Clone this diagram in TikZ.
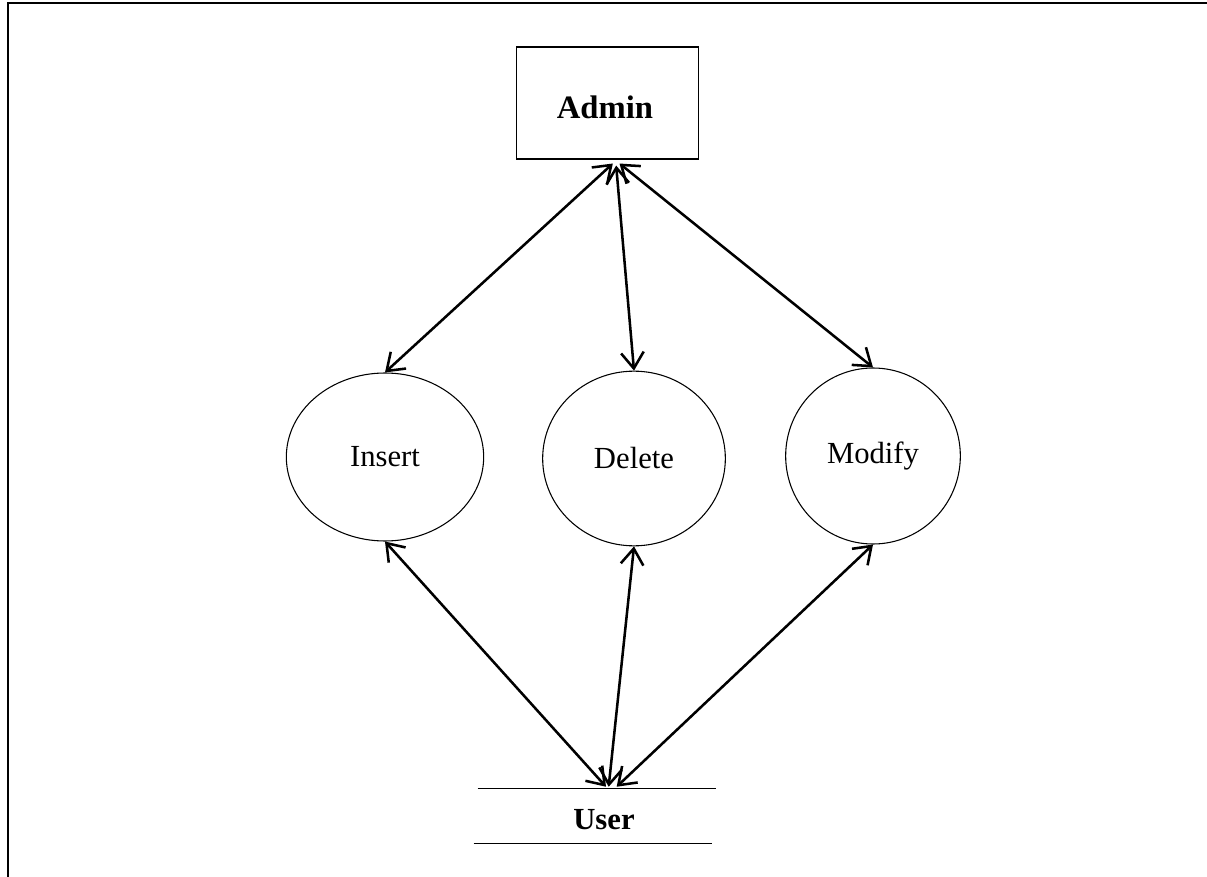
\documentclass[tikz,border=0pt]{standalone}
\usepackage{fontspec}
\setmainfont{Liberation Serif}
\usetikzlibrary{arrows.meta,shapes.geometric}
\begin{document}
\begin{tikzpicture}[x=0.75pt,y=-0.75pt,
  proc/.style={draw,line width=0.8pt,ellipse,inner sep=0pt,font=\fontsize{23}{27}\selectfont},
  flow/.style={line width=1.9pt,{Straight Barb[length=12pt,width=17pt]}-{Straight Barb[length=12pt,width=17pt]}},
  lbl/.style={inner sep=0pt,font=\bfseries\fontsize{23}{27}\selectfont}]
\useasboundingbox (0,0) rectangle (1207,877);
\clip (0,0) rectangle (1207,877);
\draw[line width=1.6pt] (8,3) rectangle (1230,900);
\node[draw,line width=0.8pt,minimum width=137pt,minimum height=84pt,inner sep=0pt] (admin) at (607.5,103) {};
\node[lbl,font=\bfseries\fontsize{24.5}{29}\selectfont] (alabel) at (605,107) {Admin};
\node[proc,minimum width=148pt,minimum height=126pt] (ins) at (385,457) {Insert};
\node[proc,minimum width=137pt,minimum height=131pt] (del) at (634,458.5) {Delete};
\node[proc,minimum width=131pt,minimum height=132pt] (mod) at (873,456) {Modify};
\node[minimum width=178pt,minimum height=40.5pt,inner sep=0pt] (user) at (594,816) {};
\draw[line width=0.8pt] ([xshift=2pt]user.north west) -- ([xshift=2pt]user.north east);
\draw[line width=0.8pt] ([xshift=-1pt]user.south west) -- ([xshift=-1pt]user.south east);
\node[lbl] (ulabel) at (604,820) {User};
\draw[flow] ([xshift=4pt,yshift=-3pt]admin.south) -- (ins.north);
\draw[flow] ([xshift=6.5pt,yshift=-4.5pt]admin.south) -- (del.north);
\draw[flow] ([xshift=9pt,yshift=-3pt]admin.south) -- (mod.north);
\draw[flow] (ins.south) -- ([xshift=9pt,yshift=1.5pt]user.north);
\draw[flow] (del.south) -- ([xshift=11pt,yshift=1.5pt]user.north);
\draw[flow] (mod.south) -- ([xshift=17pt,yshift=1.5pt]user.north);
\end{tikzpicture}
\end{document}
